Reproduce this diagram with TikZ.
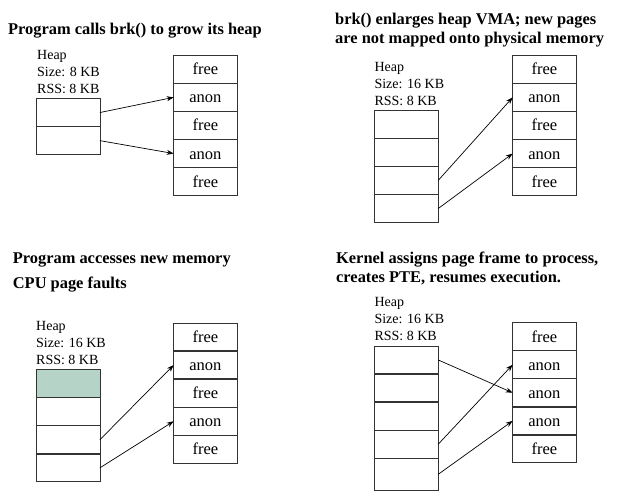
\documentclass[tikz,border=0pt]{standalone}
\usepackage{fontspec}
\setmainfont{Liberation Serif}
\usetikzlibrary{matrix, positioning, arrows.meta}
\definecolor{touched}{RGB}{182,211,200}

\begin{document}
\begin{tikzpicture}[x=1pt, y=1pt,
        box/.style={draw=black!80, line width=0.8pt, minimum width=63.5pt, minimum height=27.7pt, inner sep=0pt, text height=11pt, text depth=0pt, font=\fontsize{16.5}{18}\selectfont},
        col/.style={matrix of nodes, nodes={box}, nodes in empty cells, row sep=-\pgflinewidth, inner sep=0pt, outer sep=0pt, anchor=north west},
        heaplbl/.style={inner sep=0pt, align=left, font=\fontsize{14}{17}\selectfont},
        title/.style={inner sep=0pt, align=left, anchor=base west, font=\fontsize{16.4}{18.3}\selectfont\bfseries},
        arrow/.style={-{Stealth[length=7pt, width=5pt]}, line width=0.7pt}
    ]
    \useasboundingbox (0,0) rectangle (619,500);

    % top left: before brk()
    \node[title] (T1) at (8,465) {Program calls brk() to grow its heap};
    \matrix (H1) [col] at (36,401.7) {
        \\
        \\
    };
    \node[heaplbl, above right=4pt and 1pt of H1.north west] (L1) {Heap\\Size: 8 KB\\RSS: 8 KB};
    \matrix (F1) [col] at (173.3,445) {
        free \\
        anon \\
        free \\
        anon \\
        free \\
    };
    \draw[arrow] (H1-1-1.east) -- (F1-2-1.west);
    \draw[arrow] (H1-2-1.east) -- (F1-4-1.west);

    % top right: heap grown, not mapped
    \node[title] (T2) at (335,456.7) {brk() enlarges heap VMA; new pages\\are not mapped onto physical memory};
    \matrix (H2) [col] at (374.3,390) {
        \\
        \\
        \\
        \\
    };
    \node[heaplbl, above right=4pt and 0pt of H2.north west] (L2) {Heap\\Size: 16 KB\\RSS: 8 KB};
    \matrix (F2) [col] at (512.3,445) {
        free \\
        anon \\
        free \\
        anon \\
        free \\
    };
    \draw[arrow] (H2-3-1.east) -- (F2-2-1.west);
    \draw[arrow] (H2-4-1.east) -- (F2-4-1.west);

    % bottom left: page fault
    \node[title] (T3) at (12.7,211.7) {Program accesses new memory\\[6.7pt]CPU page faults};
    \matrix (H3) [col] at (36,130.7) {
        |[fill=touched]| \\
        \\
        \\
        \\
    };
    \node[heaplbl, above right=4pt and 0pt of H3.north west] (L3) {Heap\\Size: 16 KB\\RSS: 8 KB};
    \matrix (F3) [col] at (173.3,177.3) {
        free \\
        anon \\
        free \\
        anon \\
        free \\
    };
    \draw[arrow] (H3-3-1.east) -- (F3-2-1.west);
    \draw[arrow] (H3-4-1.east) -- (F3-4-1.west);

    % bottom right: frame assigned
    \node[title] (T4) at (336,217.7) {Kernel assigns page frame to process,\\creates PTE, resumes execution.};
    \matrix (H4) [col] at (374.3,154.3) {
        \\
        \\
        \\
        \\
        |[minimum height=31.7pt]| \\
    };
    \node[heaplbl, above right=4.5pt and 0pt of H4.north west] (L4) {Heap\\Size: 16 KB\\RSS: 8 KB};
    \matrix (F4) [col] at (512.3,177.7) {
        free \\
        anon \\
        anon \\
        anon \\
        free \\
    };
    \draw[arrow] (H4-1-1.east) -- (F4-3-1.west);
    \draw[arrow] (H4-4-1.east) -- (F4-2-1.west);
    \draw[arrow] (H4-5-1.east) -- (F4-4-1.west);
\end{tikzpicture}
\end{document}
